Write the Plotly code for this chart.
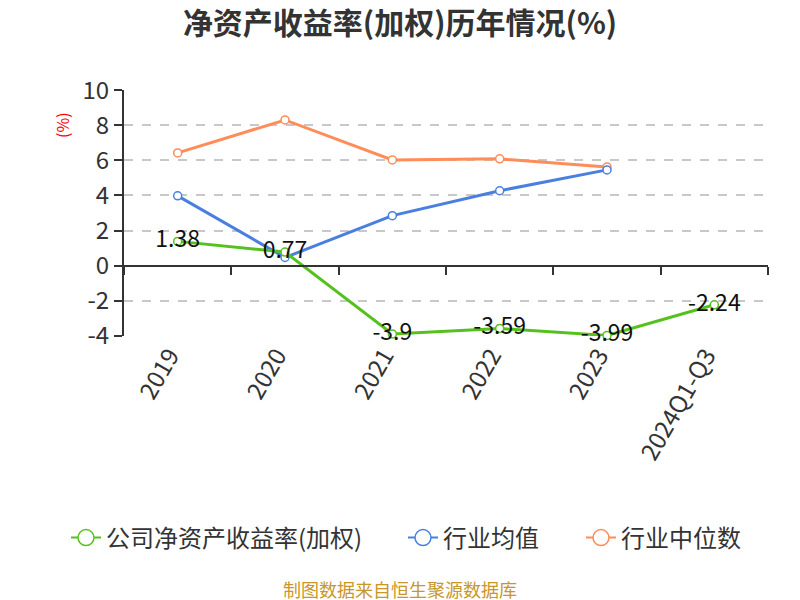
import plotly.graph_objects as go

categories = ["2019", "2020", "2021", "2022", "2023", "2024Q1-Q3"]
company_roe = [1.38, 0.77, -3.9, -3.59, -3.99, -2.24]
industry_mean = [3.98, 0.46, 2.85, 4.27, 5.46]
industry_median = [6.43, 8.31, 6.03, 6.09, 5.63]
y_ticks = [-4, -2, 0, 2, 4, 6, 8, 10]

FONT = "Noto Sans CJK SC, Microsoft YaHei, sans-serif"
GREEN = "#55c11f"
BLUE = "#4a7fe0"
ORANGE = "#ff8c59"

Y_MIN, Y_MAX = -4, 10

# the page body adds an 8px offset, so lay out in window pixels minus 8
OFF = 8
W, H = 800 - OFF, 600 - OFF
M_L, M_T = 124 - OFF, 90 - OFF
plot_w, plot_h = 644, 246
M_R = W - M_L - plot_w
M_B = H - M_T - plot_h


def px_x(x):
    return (x - OFF - M_L) / plot_w


def px_y(y):
    return (M_T + plot_h - (y - OFF)) / plot_h


fig = go.Figure()

series = [
    ("公司净资产收益率(加权)", company_roe, GREEN, True),
    ("行业均值", industry_mean, BLUE, False),
    ("行业中位数", industry_median, ORANGE, False),
]
legend_ids = ["legend", "legend2", "legend3"]
legend_left = [66, 403, 581]  # window pixels of each legend item

# plotted lines (median first so the company line sits on top)
for name, values, color, labels in reversed(series):
    fig.add_trace(go.Scatter(
        x=categories[:len(values)],
        y=values,
        name=name,
        mode="lines+markers+text" if labels else "lines+markers",
        text=[str(v) for v in values] if labels else None,
        textposition="middle center",
        textfont=dict(size=23, color="#111111", family=FONT),
        line=dict(color=color, width=3),
        marker=dict(symbol="circle", size=8, color="white",
                    line=dict(color=color, width=1.5)),
        cliponaxis=False,
        showlegend=False,
    ))

# legend entries with the larger hollow circle, one legend box each
for (name, values, color, labels), lid in zip(series, legend_ids):
    fig.add_trace(go.Scatter(
        x=[None], y=[None], name=name, legend=lid,
        mode="lines+markers",
        line=dict(color=color, width=2),
        marker=dict(symbol="circle", size=16, color="white",
                    line=dict(color=color, width=1.5)),
    ))

# invisible trace so the overlaid zero axis draws its ticks
fig.add_trace(go.Scatter(x=categories, y=[0] * len(categories), xaxis="x2",
                         mode="lines", line=dict(width=0), showlegend=False,
                         hoverinfo="skip"))

zero_pos = (0 - Y_MIN) / (Y_MAX - Y_MIN)

legend_style = dict(
    orientation="h",
    xanchor="left", xref="paper",
    y=px_y(538), yanchor="middle", yref="paper",
    font=dict(size=24, color="#333333"),
    bgcolor="rgba(0,0,0,0)",
)

fig.update_layout(
    width=W,
    height=H,
    paper_bgcolor="white",
    plot_bgcolor="white",
    margin=dict(l=M_L, r=M_R, t=M_T, b=M_B, autoexpand=False),
    font=dict(family=FONT, color="#333333"),
    title=dict(
        text="<b>净资产收益率(加权)历年情况(%)</b>",
        x=(400 - OFF) / W, xanchor="center", xref="container",
        y=1 - (23 - OFF) / H, yanchor="middle", yref="container",
        font=dict(size=30, color="#333333", family=FONT),
    ),
    xaxis=dict(
        type="category",
        categoryorder="array",
        categoryarray=categories,
        range=[-0.5, 5.5],
        showline=False,
        showgrid=False,
        ticks="",
        tickangle=-60,
        ticklabelshift=-8,
        tickfont=dict(size=24, color="#333333"),
        zeroline=False,
    ),
    xaxis2=dict(
        type="category",
        categoryorder="array",
        categoryarray=categories,
        range=[-0.5, 5.5],
        overlaying="x",
        anchor="free",
        position=zero_pos,
        showline=True,
        linecolor="#333333",
        linewidth=2,
        ticks="outside",
        tickson="boundaries",
        ticklen=8,
        tickwidth=2,
        tickcolor="#333333",
        showticklabels=False,
        showgrid=False,
        zeroline=False,
    ),
    yaxis=dict(
        range=[Y_MIN - 0.02, Y_MAX + 0.02],
        tickvals=y_ticks,
        ticktext=[str(v) for v in y_ticks],
        showline=True,
        linecolor="#333333",
        linewidth=2,
        ticks="outside",
        ticklen=8,
        tickwidth=2,
        tickcolor="#333333",
        tickfont=dict(size=24, color="#333333"),
        showgrid=True,
        gridcolor="#c8c8c8",
        gridwidth=1.5,
        griddash="dash",
        zeroline=False,
    ),
    legend=dict(legend_style, x=px_x(legend_left[0])),
    legend2=dict(legend_style, x=px_x(legend_left[1])),
    legend3=dict(legend_style, x=px_x(legend_left[2])),
    annotations=[
        dict(text="(%)", x=px_x(62), y=px_y(125), xref="paper", yref="paper",
             xanchor="center", yanchor="middle",
             showarrow=False, textangle=-90,
             font=dict(size=16, color="#ff0000")),
        dict(text="制图数据来自恒生聚源数据库", x=px_x(400), y=px_y(589),
             xref="paper", yref="paper", xanchor="center", yanchor="middle",
             showarrow=False,
             font=dict(size=18, color="#c8962a")),
    ],
)

fig.write_html("out.html")
